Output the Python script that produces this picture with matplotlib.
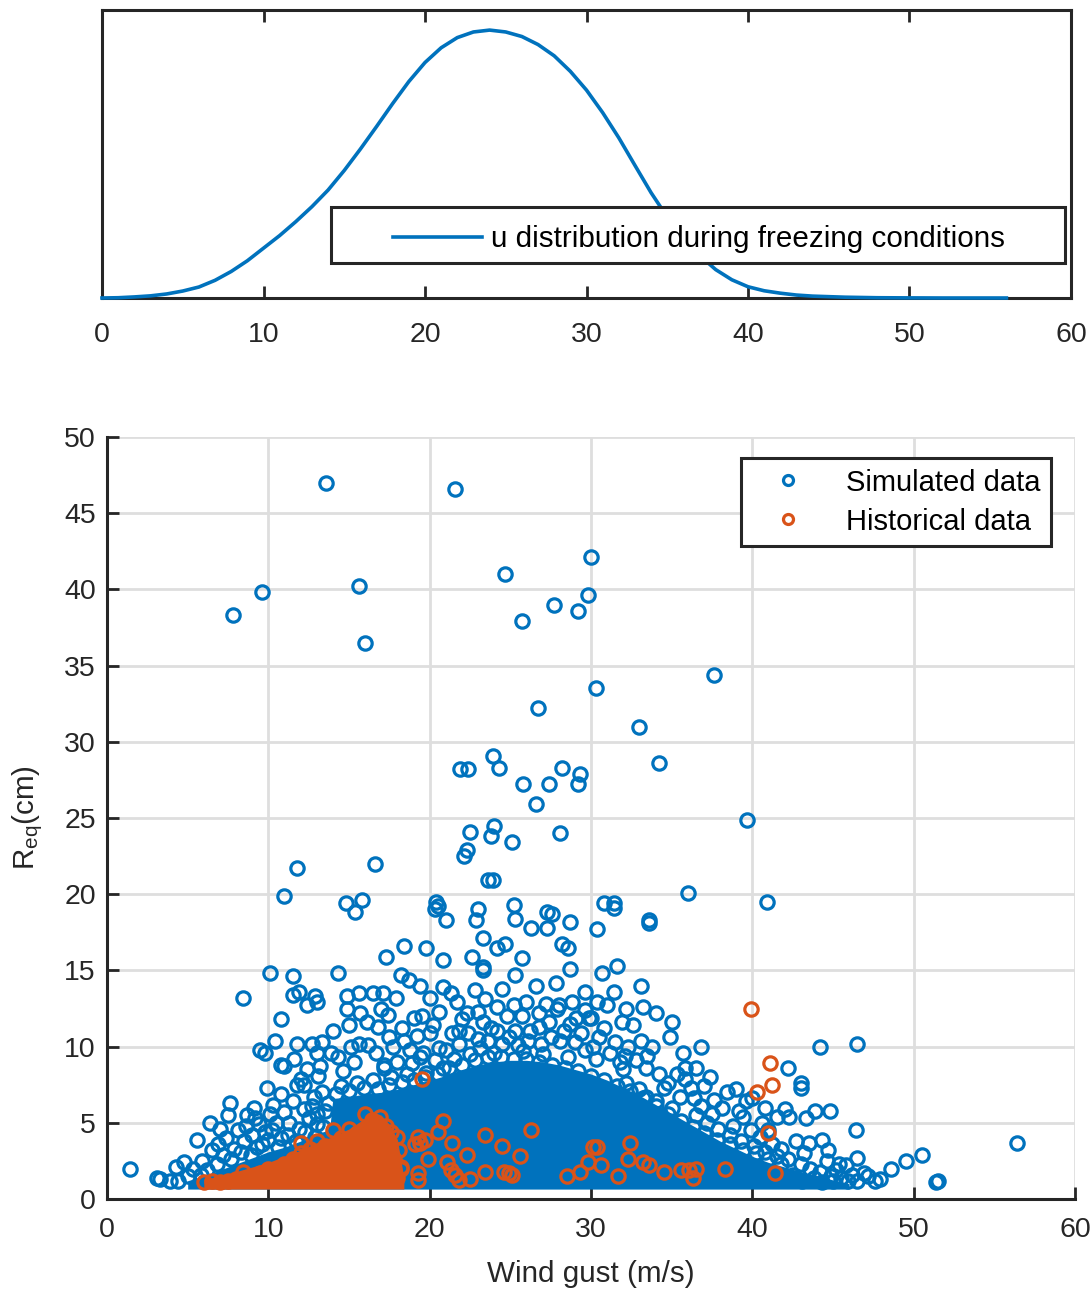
import numpy as np
import matplotlib
matplotlib.use("Agg")
import matplotlib.pyplot as plt
from matplotlib.patches import Rectangle

plt.rcParams['font.family'] = ['Liberation Sans', 'DejaVu Sans']
plt.rcParams['mathtext.fontset'] = 'custom'
plt.rcParams['mathtext.rm'] = 'Liberation Sans'
plt.rcParams['mathtext.it'] = 'Liberation Sans:italic'

BLUE = '#0072BD'
ORANGE = '#D95319'
DARK = '#262626'
GRID = '#dedede'

# ---------------- top panel: wind-gust distribution (relative density, % of peak)
u_wind = [0, 1, 2, 3, 4, 5, 6, 7, 8, 9, 10, 11, 12, 13, 14, 15, 16, 17, 18, 19,
          20, 21, 22, 23, 24, 25, 26, 27, 28, 29, 30, 31, 32, 33, 34, 35, 36, 37,
          38, 39, 40, 41, 42, 43, 44, 45, 46, 47, 48, 50, 52, 54, 56]
u_density = [0, 0.1, 0.4, 0.8, 1.5, 2.6, 4.1, 6.6, 9.9, 13.9, 18.6, 23.3, 28.5,
             34.1, 40.3, 47.6, 55.6, 64.0, 72.6, 80.8, 87.9, 93.4, 97.2, 99.3, 100,
             99.3, 97.6, 94.6, 90.4, 84.6, 77.6, 69.2, 59.8, 49.5, 39.3, 30.2, 22.5,
             15.9, 10.6, 6.8, 4.2, 2.7, 1.8, 1.1, 0.7, 0.5, 0.3, 0.2, 0.1, 0.04, 0, 0, 0]

# ---------------- bottom panel: simulated data (wind gust m/s, R_eq cm)
sim_outliers = [
    (13.6, 47.0), (21.6, 46.6), (7.8, 38.3), (9.6, 39.8), (15.6, 40.2), (16.0, 36.5),
    (24.7, 41.0), (25.7, 37.9), (27.7, 39.0), (29.2, 38.6), (29.8, 39.6), (30.0, 42.1),
    (26.7, 32.2), (30.3, 33.5), (33.0, 31.0), (37.6, 34.4), (34.2, 28.6), (23.9, 29.1),
    (24.3, 28.3), (21.9, 28.2), (22.4, 28.2), (25.8, 27.2), (27.4, 27.2), (28.2, 28.3),
    (29.3, 27.9), (29.2, 27.2), (26.6, 25.9), (22.5, 24.1), (24.0, 24.5), (23.8, 23.8),
    (25.1, 23.4), (28.1, 24.0), (39.7, 24.9), (22.1, 22.5), (22.3, 22.9), (23.6, 20.9),
    (23.9, 20.9), (11.8, 21.7), (16.6, 22.0), (11.0, 19.9), (36.0, 20.1), (40.9, 19.5),
    (14.8, 19.4), (15.4, 18.8), (15.8, 19.6),
]
sim_mid = [
    (20.4, 19.5), (20.5, 19.2), (20.3, 19.0), (21.0, 18.3), (23.0, 19.0), (22.9, 18.3),
    (25.2, 19.3), (25.3, 18.4), (26.3, 17.8), (27.3, 17.8), (27.3, 18.8), (27.6, 18.7),
    (28.7, 18.2), (30.8, 19.4), (31.4, 19.4), (31.4, 19.1), (30.4, 17.7), (33.6, 18.3),
    (33.6, 18.1), (23.3, 17.1), (24.2, 16.5), (24.7, 16.7), (28.2, 16.7), (28.6, 16.5),
    (18.4, 16.6), (19.8, 16.5), (17.3, 15.9), (20.8, 15.7), (22.6, 15.9), (25.7, 15.8),
    (23.3, 15.2), (28.7, 15.1), (30.7, 14.8), (31.6, 15.3), (33.1, 14.0), (34.0, 12.2),
    (32.2, 12.5),
    (10.1, 14.8), (11.5, 14.6), (14.3, 14.8), (8.4, 13.2), (10.8, 11.8), (11.5, 13.4),
    (11.9, 13.6), (12.4, 12.7), (12.9, 13.3), (13.0, 12.9), (14.9, 13.3), (15.6, 13.5),
    (14.9, 12.5), (15.7, 12.2), (16.1, 11.6), (16.8, 11.3), (16.5, 13.5), (17.1, 13.5),
    (17.0, 12.5), (17.4, 12.1), (17.9, 13.2), (18.2, 14.7), (18.7, 14.4), (19.4, 14.0),
    (20.8, 13.9), (21.3, 13.5), (21.7, 12.9), (23.3, 15.0), (23.4, 13.1), (25.3, 14.7),
    (25.2, 12.7), (26.0, 12.9), (28.0, 12.7), (28.8, 12.9), (29.1, 11.9), (29.9, 11.9),
    (19.0, 11.9), (19.5, 12.0), (20.6, 12.3), (21.8, 11.0), (22.3, 12.2), (23.3, 11.6),
    (27.9, 12.5), (30.0, 11.9), (30.4, 12.9),
]
sim_low = [
    (9.5, 9.8), (9.8, 9.6), (10.4, 10.4), (10.8, 8.8), (11.0, 8.7), (11.8, 10.2),
    (12.7, 10.2), (13.3, 10.3), (13.0, 9.6), (13.2, 8.7), (14.3, 9.3), (15.1, 10.0),
    (15.6, 10.2), (16.7, 9.6), (17.2, 8.8), (17.7, 10.0), (18.4, 10.4), (18.8, 9.8),
    (19.4, 9.3), (20.0, 10.9), (20.6, 9.9), (21.4, 10.9),
    (9.9, 7.3), (7.6, 6.3), (7.5, 5.5), (6.4, 5.0), (5.6, 3.9), (1.4, 2.0), (3.1, 1.4),
    (3.3, 1.3), (4.3, 2.1), (4.8, 2.4), (3.9, 1.2), (4.4, 1.2), (11.8, 7.5), (12.2, 7.5),
    (12.8, 6.7), (13.1, 8.1), (10.8, 6.9), (10.3, 6.2), (8.7, 5.5), (9.2, 5.3),
    (23.0, 10.5), (23.8, 11.2), (24.5, 10.2), (25.3, 11.0), (26.1, 10.4), (26.8, 11.3),
    (27.5, 10.6), (28.3, 11.0), (29.0, 10.3), (29.6, 9.8), (30.5, 10.6), (31.2, 9.6),
    (31.8, 9.0), (30.3, 9.2), (22.5, 9.5), (24.0, 9.6), (25.8, 9.7), (27.0, 9.5),
    (28.6, 9.3), (21.5, 9.2), (20.8, 8.6), (19.8, 8.3), (18.6, 8.2), (17.6, 8.0),
    (16.5, 7.8), (15.5, 7.6), (14.5, 7.4), (24.8, 12.0), (26.8, 12.2),
    (17.2, 8.6), (18.0, 9.0), (18.9, 8.9), (19.6, 9.6), (20.3, 9.1), (21.0, 9.8),
    (21.8, 10.2), (22.4, 10.9), (23.1, 9.9), (23.6, 10.4), (24.2, 11.0), (24.9, 10.6),
    (25.5, 10.1), (26.2, 11.0), (26.9, 10.2), (27.4, 11.6), (28.1, 10.4), (28.7, 11.5),
    (29.4, 10.9), (30.1, 10.0), (30.8, 11.2), (31.5, 10.3), (32.1, 9.4), (32.8, 9.1),
    (33.5, 9.4), (34.2, 8.2), (34.8, 7.6), (35.3, 8.2), (36.4, 6.6), (37.0, 7.4),
    (22.0, 11.8), (23.0, 12.3), (24.2, 12.6), (25.7, 12.0), (27.2, 12.8), (29.6, 12.4),
    (31.0, 12.7), (31.9, 11.6), (20.2, 11.4), (19.2, 10.7), (18.3, 11.2), (17.5, 10.6),
    (16.2, 10.1), (15.3, 9.0), (14.6, 8.4), (13.9, 9.6), (12.4, 8.5), (11.6, 9.2),
    (12.0, 7.9), (14.0, 11.0), (15.0, 11.4), (20.0, 13.2), (22.8, 13.7), (24.5, 13.8),
    (26.6, 14.0), (27.8, 14.2), (29.6, 13.6), (31.4, 13.6), (32.6, 11.4), (33.2, 12.6),
    (35.0, 11.6), (36.8, 10.0), (36.5, 8.6), (37.4, 8.0), (39.0, 7.2), (40.0, 6.6),
    (40.8, 6.0), (41.5, 5.4),
]
sim_right = [
    (44.2, 10.0), (46.5, 10.2), (42.2, 8.6), (43.0, 7.6), (43.0, 7.3), (42.0, 5.9),
    (42.3, 5.4), (43.3, 5.3), (43.9, 5.8), (44.8, 5.8), (46.4, 4.5), (42.7, 3.8),
    (43.5, 3.7), (44.3, 3.9), (44.7, 3.2), (46.5, 2.7), (48.6, 2.0), (49.5, 2.5),
    (50.5, 2.9), (51.5, 1.2), (51.4, 1.1), (56.4, 3.7), (46.9, 1.7), (47.6, 1.2),
    (45.9, 1.2), (46.5, 1.2), (44.3, 1.1), (45.2, 1.9), (45.4, 2.3), (37.6, 6.5),
    (38.4, 7.0), (38.1, 6.0), (39.2, 5.8), (39.4, 5.4), (39.6, 6.4), (35.5, 6.7),
    (36.2, 7.3), (35.8, 7.9), (35.7, 9.6), (35.8, 8.6), (34.9, 10.6), (32.3, 10.0),
    (33.1, 10.4), (33.8, 10.0), (33.4, 8.6), (32.0, 8.5), (33.4, 6.7), (34.0, 6.4),
    (32.2, 7.6), (44.6, 2.5), (45.8, 2.2), (46.2, 1.6), (47.2, 1.5), (45.0, 1.2),
    (43.1, 1.2), (47.9, 1.3),
]
sim_fringe = [
    (6.8, 2.3), (7.2, 2.9), (7.9, 3.3), (8.5, 3.8), (9.0, 4.2), (9.6, 3.6), (10.2, 4.5),
    (10.8, 4.0), (11.3, 5.0), (11.9, 4.6), (12.5, 5.3), (13.0, 4.9), (13.5, 5.8),
    (12.2, 5.9), (11.0, 5.7), (10.5, 5.0), (9.4, 4.9), (8.1, 4.5), (7.4, 4.0), (6.5, 3.2),
    (5.9, 2.5), (5.3, 2.0), (5.0, 1.5), (5.8, 1.6), (6.2, 1.9), (13.7, 6.3), (13.3, 7.0),
    (6.9, 3.6), (7.7, 2.6), (8.3, 3.1), (8.9, 2.9), (9.3, 3.4), (10.0, 3.9), (10.6, 3.4),
    (11.2, 4.2), (11.7, 3.8), (12.3, 4.4), (12.9, 4.1), (13.4, 4.7), (9.8, 4.4),
    (8.6, 4.8), (11.5, 6.4), (12.7, 6.1), (10.1, 5.6), (9.1, 6.0), (7.0, 4.6), (13.0, 5.6),
    (36.5, 5.5), (37.2, 5.0), (37.9, 4.6), (38.6, 4.2), (39.3, 3.8), (40.1, 3.5),
    (40.8, 3.1), (41.5, 2.8), (42.2, 2.6), (43.0, 2.3), (43.6, 2.0), (44.2, 1.8),
    (44.9, 1.5), (45.5, 1.4), (36.8, 6.1), (37.5, 5.6), (38.8, 4.8), (40.5, 4.1),
    (41.2, 3.6), (41.8, 3.3), (43.2, 3.0), (42.5, 1.6), (43.8, 1.4), (40.6, 5.0),
    (41.0, 4.5), (39.9, 4.5), (34.5, 7.3), (35.0, 6.0), (33.0, 7.2),
    (14.2, 6.9), (15.0, 7.1), (15.9, 7.3), (16.8, 7.2), (17.5, 7.5), (18.3, 7.7),
    (19.0, 7.8), (19.7, 8.0), (20.5, 8.2), (21.2, 8.6), (22.0, 8.8), (22.8, 9.1),
    (23.6, 9.3), (24.4, 9.3), (25.2, 9.2), (26.0, 9.2), (26.8, 9.0), (27.6, 8.8),
    (28.4, 8.6), (29.2, 8.4), (30.0, 8.1), (30.8, 7.8), (31.6, 7.4), (32.4, 7.1),
    (33.2, 6.6), (34.0, 6.1), (34.8, 5.6), (35.6, 5.1), (36.3, 4.7), (37.0, 4.3),
    (37.8, 3.9), (38.6, 3.6), (39.4, 3.2), (40.2, 3.0), (41.0, 2.6), (41.8, 2.3),
]
# envelope of the saturated (fully overlapping) cloud of simulated points
sim_dense_gust = [5.0, 6, 7, 8, 9, 10, 11, 12, 13, 13.8, 14.0, 15, 16, 17, 18, 19, 20,
                  21, 22, 23, 24, 25, 26, 27, 28, 29, 30, 31, 32, 33, 34, 35, 36, 37,
                  38, 39, 40, 41, 42, 43, 44, 45, 46]
sim_dense_top = [1.2, 1.5, 1.9, 2.3, 2.7, 3.1, 3.4, 3.8, 4.2, 4.6, 6.6, 6.7, 6.9, 7.0,
                 7.2, 7.5, 7.8, 8.1, 8.5, 8.8, 9.0, 9.1, 9.1, 9.0, 8.8, 8.5, 8.2, 7.8,
                 7.3, 6.8, 6.2, 5.6, 5.0, 4.4, 3.8, 3.3, 2.8, 2.4, 2.1, 1.8, 1.5, 1.25,
                 1.0]
sim_dense_floor = 0.65

# ---------------- historical data
hist_points = [
    (6.0, 1.1), (6.5, 1.2), (7.0, 1.1), (7.5, 1.2), (8.0, 1.3), (8.4, 1.8), (9.0, 1.5),
    (9.5, 1.7), (10.0, 2.0), (10.5, 1.8), (11.0, 2.3), (11.5, 2.6), (12.0, 3.0),
    (12.0, 3.7), (12.6, 3.3), (13.0, 3.8), (13.5, 3.5), (14.0, 4.5), (14.5, 4.0),
    (15.0, 4.6), (15.5, 4.3), (16.0, 5.6), (16.4, 5.2), (16.9, 5.4), (17.3, 4.8),
    (17.6, 4.4), (18.0, 4.1), (18.1, 3.2), (18.2, 2.1), (18.0, 1.4), (17.8, 2.6),
    (19.5, 7.9), (19.3, 4.1), (19.4, 3.7), (19.7, 3.9), (19.1, 3.6), (20.8, 5.1),
    (20.5, 4.4), (21.4, 3.7), (22.3, 2.9), (23.4, 4.2), (24.5, 3.5), (25.6, 2.8),
    (26.3, 4.5), (19.9, 2.6), (21.1, 2.4), (21.3, 1.9), (21.6, 1.6), (19.3, 1.7),
    (19.3, 1.25), (18.2, 2.0), (21.8, 1.25), (22.5, 1.3), (23.4, 1.8), (24.6, 1.8),
    (25.1, 1.6), (24.9, 1.7), (28.5, 1.5), (29.3, 1.8), (29.8, 2.4), (30.1, 3.4),
    (30.4, 3.4), (30.6, 2.2), (31.7, 1.5), (32.4, 3.7), (32.3, 2.6), (33.2, 2.4),
    (33.6, 2.2), (34.5, 1.8), (35.6, 1.9), (36.1, 1.9), (36.5, 2.0), (36.3, 1.4),
    (38.3, 2.0), (39.9, 12.5), (41.1, 8.9), (41.2, 7.5), (40.3, 7.0), (41.0, 4.3),
    (41.4, 1.7),
]
hist_dense_gust = [6.0, 7, 8, 9, 10, 11, 12, 13, 14, 15, 16, 16.5, 17.0, 17.5, 18.0,
                   18.4]
hist_dense_top = [1.3, 1.5, 1.8, 2.1, 2.4, 2.8, 3.2, 3.7, 4.1, 4.6, 5.3, 5.7, 5.5,
                  4.9, 3.9, 1.4]
hist_dense_floor = 0.65

x_ticks = [0, 10, 20, 30, 40, 50, 60]
y_ticks = [0, 5, 10, 15, 20, 25, 30, 35, 40, 45, 50]

# ============================================================
fig = plt.figure(figsize=(10.91, 12.91), dpi=100)
TICK_FS = 20.5
LAB_FS = 21.3

# ---- top axes
ax1 = fig.add_axes([102 / 1091, 1 - 298 / 1291, 969 / 1091, 288 / 1291])
ax1.plot(u_wind, u_density, color=BLUE, lw=2.6, zorder=3, clip_on=False,
         solid_joinstyle='round', label='u distribution during freezing conditions')
ax1.set_xlim(0, 60)
ax1.set_ylim(0, 107.5)
ax1.set_xticks(x_ticks)
ax1.set_yticks([])
ax1.tick_params(axis='x', direction='in', length=8.5, width=2.0, colors=DARK,
                labelsize=TICK_FS, top=True, pad=17, labelcolor=DARK)
for sp in ax1.spines.values():
    sp.set_linewidth(2.2)
    sp.set_color(DARK)
ax1.add_patch(Rectangle((0.236, 0.122), 0.758, 0.194, transform=ax1.transAxes,
                        facecolor='white', edgecolor=DARK, lw=2.2, zorder=5))
leg1 = ax1.legend(loc='center left', bbox_to_anchor=(0.3003, 0.205), frameon=False,
                  fontsize=LAB_FS, handlelength=3.0, handletextpad=0.3,
                  borderpad=0, borderaxespad=0)
leg1.set_zorder(6)
for t in leg1.get_texts():
    t.set_color('black')

# ---- bottom axes
ax2 = fig.add_axes([107 / 1091, 1 - 1199 / 1291, 968 / 1091, 762 / 1291])
ax2.set_axisbelow(True)
ax2.grid(True, color=GRID, lw=2.0, zorder=0)

ms, mew = 9.6, 2.3
ax2.fill_between(sim_dense_gust, sim_dense_floor, sim_dense_top, color=BLUE, lw=0,
                 zorder=2)
sim_all = sim_outliers + sim_mid + sim_low + sim_right + sim_fringe
sx, sy = zip(*sim_all)
ax2.plot(sx, sy, 'o', ls='none', mfc='none', mec=BLUE, ms=ms, mew=mew, zorder=3,
         label='Simulated data')
ax2.fill_between(hist_dense_gust, hist_dense_floor, hist_dense_top, color=ORANGE,
                 lw=0, zorder=4)
hx, hy = zip(*hist_points)
ax2.plot(hx, hy, 'o', ls='none', mfc='none', mec=ORANGE, ms=ms, mew=mew, zorder=5,
         label='Historical data')

ax2.set_xlim(0, 60)
ax2.set_ylim(0, 50)
ax2.set_xticks(x_ticks)
ax2.set_yticks(y_ticks)
ax2.spines['top'].set_visible(False)
ax2.spines['right'].set_visible(False)
for s in ('left', 'bottom'):
    ax2.spines[s].set_linewidth(2.2)
    ax2.spines[s].set_color(DARK)
ax2.tick_params(direction='in', length=8.5, width=2.0, colors=DARK,
                labelsize=TICK_FS, labelcolor=DARK)
ax2.tick_params(axis='x', pad=13)
ax2.tick_params(axis='y', pad=8)
ax2.set_xlabel('Wind gust (m/s)', fontsize=LAB_FS, color=DARK, labelpad=12)
ax2.set_ylabel(r'R$_{\mathrm{eq}}$(cm)', fontsize=LAB_FS, color=DARK, labelpad=14)

leg2 = ax2.legend(loc='upper right', bbox_to_anchor=(0.975, 0.972), fontsize=21,
                  numpoints=1, handlelength=2.55, handletextpad=0.7, borderpad=0.35,
                  labelspacing=0.38, borderaxespad=0, fancybox=False, framealpha=1,
                  markerscale=0.75)
leg2.get_frame().set_edgecolor(DARK)
leg2.get_frame().set_linewidth(2.2)
for t in leg2.get_texts():
    t.set_color('black')

fig.savefig('out.png', dpi=100, facecolor='white')
